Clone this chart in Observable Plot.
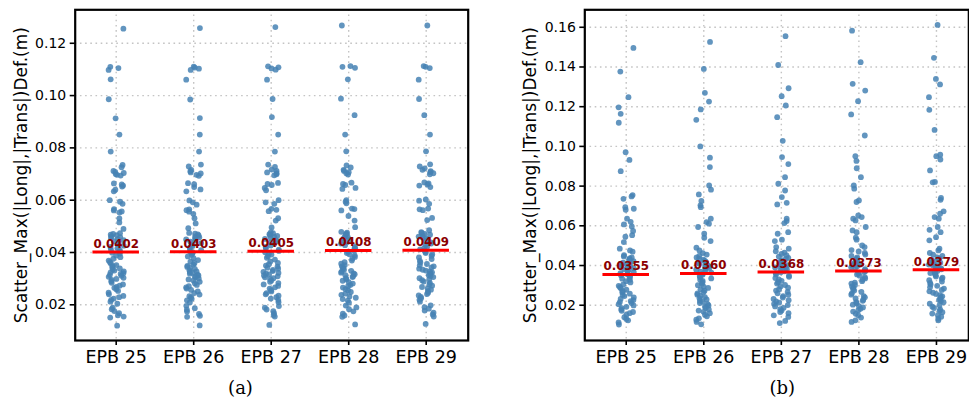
<!DOCTYPE html>
<html>
<head>
<meta charset="utf-8">
<script src="https://cdn.jsdelivr.net/npm/d3@7"></script>
<script src="https://cdn.jsdelivr.net/npm/@observablehq/plot@0.6"></script>
<style>
  html, body { margin: 0; padding: 0; background: #fff; }
  #wrap { display: flex; width: 969px; height: 408px; overflow: hidden; }
</style>
</head>
<body>
<div id="wrap"></div>
<script>
const categories = ["EPB 25", "EPB 26", "EPB 27", "EPB 28", "EPB 29"];
const yLabel = "Scatter_Max(|Long|,|Trans|)Def.(m)";
const yTicksA = [0.02, 0.04, 0.06, 0.08, 0.10, 0.12];
const yTicksB = [0.02, 0.04, 0.06, 0.08, 0.10, 0.12, 0.14, 0.16];
const meansA = [0.0402, 0.0403, 0.0405, 0.0408, 0.0409];
const meansB = [0.0355, 0.0360, 0.0368, 0.0373, 0.0379];

const a25 = [0.1256, 0.1110, 0.1105, 0.1098, 0.1062, 0.0986, 0.0913, 0.0851, 0.0786, 0.0735, 0.0726, 0.0712, 0.0708, 0.0704, 0.0700, 0.0697, 0.0694, 0.0664, 0.0660, 0.0656, 0.0652, 0.0640, 0.0634, 0.0600, 0.0594, 0.0586, 0.0566, 0.0561, 0.0557, 0.0553, 0.0530, 0.0515, 0.0490,
  0.0474, 0.0471, 0.0468, 0.0466, 0.0462, 0.0459, 0.0455, 0.0451, 0.0447, 0.0443, 0.0437, 0.0432, 0.0426, 0.0421, 0.0416, 0.0411, 0.0407, 0.0403, 0.0399, 0.0395, 0.0388, 0.0382, 0.0376, 0.0369, 0.0363, 0.0357, 0.0352, 0.0348, 0.0344, 0.0339, 0.0335, 0.0331, 0.0328, 0.0324, 0.0321, 0.0318, 0.0314, 0.0311, 0.0307, 0.0303, 0.0299, 0.0295, 0.0290, 0.0284, 0.0278, 0.0273, 0.0268, 0.0265, 0.0259, 0.0253, 0.0246, 0.0240, 0.0234, 0.0229, 0.0224, 0.0219, 0.0212, 0.0204, 0.0189, 0.0183, 0.0176, 0.0168, 0.0160, 0.0155, 0.0151, 0.0120];
const a26 = [0.1258, 0.1111, 0.1107, 0.1103, 0.1098, 0.1061, 0.0985, 0.0914, 0.0851, 0.0786, 0.0736, 0.0729, 0.0716, 0.0711, 0.0706, 0.0702, 0.0697, 0.0693, 0.0665, 0.0661, 0.0650, 0.0641, 0.0634, 0.0599, 0.0592, 0.0583, 0.0565, 0.0562, 0.0556, 0.0548, 0.0531, 0.0511, 0.0493,
  0.0475, 0.0472, 0.0469, 0.0465, 0.0461, 0.0458, 0.0454, 0.0450, 0.0446, 0.0441, 0.0436, 0.0430, 0.0425, 0.0419, 0.0414, 0.0409, 0.0404, 0.0400, 0.0396, 0.0391, 0.0385, 0.0378, 0.0371, 0.0365, 0.0359, 0.0354, 0.0349, 0.0345, 0.0341, 0.0337, 0.0332, 0.0328, 0.0325, 0.0322, 0.0319, 0.0315, 0.0312, 0.0308, 0.0305, 0.0301, 0.0297, 0.0293, 0.0288, 0.0282, 0.0276, 0.0271, 0.0267, 0.0262, 0.0257, 0.0251, 0.0245, 0.0239, 0.0233, 0.0228, 0.0223, 0.0217, 0.0209, 0.0196, 0.0187, 0.0181, 0.0174, 0.0165, 0.0158, 0.0154, 0.0121];
const a27 = [0.1262, 0.1112, 0.1108, 0.1104, 0.1099, 0.1061, 0.0987, 0.0918, 0.0851, 0.0786, 0.0736, 0.0727, 0.0717, 0.0712, 0.0706, 0.0703, 0.0699, 0.0695, 0.0666, 0.0662, 0.0658, 0.0647, 0.0638, 0.0600, 0.0592, 0.0586, 0.0567, 0.0563, 0.0558, 0.0531, 0.0522, 0.0496,
  0.0477, 0.0474, 0.0470, 0.0467, 0.0463, 0.0460, 0.0456, 0.0452, 0.0448, 0.0443, 0.0438, 0.0433, 0.0427, 0.0421, 0.0416, 0.0411, 0.0406, 0.0401, 0.0397, 0.0392, 0.0386, 0.0380, 0.0373, 0.0366, 0.0360, 0.0355, 0.0350, 0.0346, 0.0342, 0.0338, 0.0333, 0.0329, 0.0326, 0.0322, 0.0319, 0.0316, 0.0312, 0.0309, 0.0305, 0.0302, 0.0298, 0.0293, 0.0288, 0.0283, 0.0278, 0.0272, 0.0267, 0.0262, 0.0256, 0.0251, 0.0245, 0.0240, 0.0235, 0.0229, 0.0224, 0.0218, 0.0210, 0.0195, 0.0189, 0.0182, 0.0176, 0.0168, 0.0161, 0.0155, 0.0123];
const a28 = [0.1268, 0.1113, 0.1110, 0.1106, 0.1062, 0.0988, 0.0925, 0.0851, 0.0787, 0.0733, 0.0725, 0.0716, 0.0712, 0.0707, 0.0703, 0.0698, 0.0667, 0.0662, 0.0658, 0.0647, 0.0643, 0.0600, 0.0594, 0.0588, 0.0568, 0.0566, 0.0561, 0.0540, 0.0522, 0.0497,
  0.0479, 0.0476, 0.0472, 0.0469, 0.0465, 0.0462, 0.0458, 0.0454, 0.0450, 0.0445, 0.0440, 0.0434, 0.0428, 0.0423, 0.0418, 0.0413, 0.0408, 0.0403, 0.0398, 0.0393, 0.0389, 0.0383, 0.0376, 0.0369, 0.0363, 0.0357, 0.0352, 0.0347, 0.0343, 0.0338, 0.0334, 0.0330, 0.0327, 0.0323, 0.0320, 0.0317, 0.0313, 0.0309, 0.0306, 0.0302, 0.0297, 0.0292, 0.0287, 0.0281, 0.0276, 0.0271, 0.0266, 0.0260, 0.0255, 0.0249, 0.0243, 0.0238, 0.0232, 0.0227, 0.0222, 0.0216, 0.0208, 0.0197, 0.0190, 0.0183, 0.0175, 0.0166, 0.0159, 0.0154, 0.0125];
const a29 = [0.1268, 0.1113, 0.1110, 0.1105, 0.1061, 0.0987, 0.0925, 0.0851, 0.0787, 0.0737, 0.0729, 0.0722, 0.0716, 0.0711, 0.0707, 0.0703, 0.0699, 0.0668, 0.0664, 0.0660, 0.0656, 0.0650, 0.0603, 0.0598, 0.0586, 0.0568, 0.0565, 0.0562, 0.0532, 0.0524, 0.0485,
  0.0478, 0.0475, 0.0471, 0.0468, 0.0465, 0.0461, 0.0457, 0.0453, 0.0449, 0.0444, 0.0439, 0.0434, 0.0428, 0.0422, 0.0417, 0.0412, 0.0407, 0.0402, 0.0398, 0.0393, 0.0387, 0.0381, 0.0375, 0.0368, 0.0362, 0.0356, 0.0351, 0.0347, 0.0343, 0.0338, 0.0334, 0.0331, 0.0328, 0.0324, 0.0321, 0.0317, 0.0313, 0.0310, 0.0306, 0.0302, 0.0298, 0.0294, 0.0289, 0.0284, 0.0278, 0.0273, 0.0268, 0.0263, 0.0258, 0.0252, 0.0246, 0.0241, 0.0236, 0.0230, 0.0225, 0.0219, 0.0212, 0.0198, 0.0191, 0.0185, 0.0178, 0.0170, 0.0163, 0.0155, 0.0127];

const b25 = [0.1496, 0.1377, 0.1248, 0.1197, 0.1164, 0.1119, 0.0971, 0.0932, 0.0875, 0.0755, 0.0748, 0.0736, 0.0694, 0.0686, 0.0681, 0.0636, 0.0620, 0.0607, 0.0597, 0.0574, 0.0553, 0.0545, 0.0518, 0.0485, 0.0476, 0.0470,
  0.0452, 0.0446, 0.0441, 0.0436, 0.0431, 0.0427, 0.0422, 0.0418, 0.0414, 0.0410, 0.0406, 0.0402, 0.0398, 0.0394, 0.0390, 0.0386, 0.0381, 0.0377, 0.0372, 0.0367, 0.0362, 0.0356, 0.0351, 0.0346, 0.0340, 0.0334, 0.0328, 0.0321, 0.0315, 0.0305, 0.0298, 0.0291, 0.0284, 0.0278, 0.0271, 0.0265, 0.0258, 0.0252, 0.0246, 0.0239, 0.0232, 0.0226, 0.0221, 0.0216, 0.0211, 0.0205, 0.0199, 0.0192, 0.0185, 0.0178, 0.0172, 0.0166, 0.0160, 0.0152, 0.0140, 0.0131, 0.0124, 0.0113, 0.0103];
const b26 = [0.1526, 0.1390, 0.1270, 0.1226, 0.1186, 0.1134, 0.1000, 0.0943, 0.0896, 0.0803, 0.0782, 0.0758, 0.0725, 0.0703, 0.0694, 0.0636, 0.0619, 0.0611, 0.0594, 0.0560, 0.0540, 0.0523, 0.0490, 0.0476,
  0.0462, 0.0455, 0.0448, 0.0441, 0.0435, 0.0429, 0.0424, 0.0419, 0.0414, 0.0409, 0.0404, 0.0400, 0.0396, 0.0392, 0.0388, 0.0383, 0.0379, 0.0374, 0.0369, 0.0364, 0.0358, 0.0353, 0.0347, 0.0341, 0.0335, 0.0329, 0.0322, 0.0315, 0.0308, 0.0301, 0.0294, 0.0287, 0.0280, 0.0273, 0.0266, 0.0259, 0.0253, 0.0247, 0.0241, 0.0235, 0.0229, 0.0223, 0.0217, 0.0211, 0.0205, 0.0199, 0.0193, 0.0186, 0.0179, 0.0173, 0.0167, 0.0160, 0.0152, 0.0144, 0.0134, 0.0127, 0.0116, 0.0104];
const b27 = [0.1555, 0.1410, 0.1293, 0.1253, 0.1206, 0.1147, 0.1028, 0.0946, 0.0911, 0.0845, 0.0812, 0.0778, 0.0745, 0.0716, 0.0708, 0.0636, 0.0624, 0.0614, 0.0568, 0.0560, 0.0530, 0.0523, 0.0493, 0.0485,
  0.0472, 0.0465, 0.0458, 0.0451, 0.0445, 0.0439, 0.0433, 0.0427, 0.0422, 0.0417, 0.0412, 0.0407, 0.0402, 0.0398, 0.0394, 0.0390, 0.0385, 0.0381, 0.0376, 0.0371, 0.0366, 0.0361, 0.0355, 0.0349, 0.0343, 0.0337, 0.0330, 0.0323, 0.0316, 0.0309, 0.0302, 0.0295, 0.0288, 0.0281, 0.0274, 0.0267, 0.0260, 0.0253, 0.0246, 0.0239, 0.0232, 0.0225, 0.0219, 0.0213, 0.0207, 0.0201, 0.0194, 0.0187, 0.0180, 0.0173, 0.0166, 0.0160, 0.0149, 0.0141, 0.0121, 0.0110];
const b28 = [0.1583, 0.1424, 0.1315, 0.1281, 0.1228, 0.1161, 0.1055, 0.0951, 0.0927, 0.0890, 0.0845, 0.0803, 0.0787, 0.0728, 0.0720, 0.0652, 0.0644, 0.0636, 0.0627, 0.0594, 0.0577, 0.0568, 0.0540, 0.0530, 0.0501, 0.0493,
  0.0478, 0.0471, 0.0463, 0.0455, 0.0448, 0.0441, 0.0435, 0.0429, 0.0423, 0.0418, 0.0413, 0.0408, 0.0404, 0.0400, 0.0396, 0.0391, 0.0387, 0.0382, 0.0377, 0.0372, 0.0367, 0.0361, 0.0355, 0.0349, 0.0342, 0.0335, 0.0328, 0.0321, 0.0314, 0.0309, 0.0302, 0.0295, 0.0288, 0.0281, 0.0274, 0.0267, 0.0260, 0.0253, 0.0246, 0.0240, 0.0234, 0.0228, 0.0222, 0.0216, 0.0210, 0.0203, 0.0196, 0.0189, 0.0182, 0.0175, 0.0168, 0.0157, 0.0149, 0.0138, 0.0124, 0.0116];
const b29 = [0.1612, 0.1446, 0.1340, 0.1312, 0.1248, 0.1184, 0.1083, 0.0958, 0.0951, 0.0934, 0.0879, 0.0821, 0.0819, 0.0740, 0.0731, 0.0673, 0.0661, 0.0644, 0.0636, 0.0594, 0.0580, 0.0568, 0.0543, 0.0527, 0.0485, 0.0476, 0.0463,
  0.0455, 0.0448, 0.0441, 0.0435, 0.0429, 0.0424, 0.0419, 0.0414, 0.0409, 0.0405, 0.0401, 0.0397, 0.0393, 0.0389, 0.0385, 0.0381, 0.0377, 0.0372, 0.0367, 0.0362, 0.0357, 0.0351, 0.0345, 0.0339, 0.0333, 0.0326, 0.0319, 0.0312, 0.0305, 0.0298, 0.0291, 0.0284, 0.0277, 0.0270, 0.0263, 0.0257, 0.0251, 0.0245, 0.0239, 0.0233, 0.0227, 0.0221, 0.0215, 0.0208, 0.0200, 0.0193, 0.0186, 0.0179, 0.0172, 0.0165, 0.0158, 0.0150, 0.0142, 0.0132, 0.0124];

const seriesA = [a25, a26, a27, a28, a29];
const seriesB = [b25, b26, b27, b28, b29];

// deterministic strip-plot jitter (visual spread only)
function jit(i, k) {
  const s = Math.sin(i * 127.1 + k * 311.7 + 0.5) * 43758.5453;
  return (s - Math.floor(s)) * 2 - 1;
}

function panel({series, means, yTicks, yDomain, xDomain, width, marginLeft, marginRight, labelX, caption, captionDx}) {
  const pts = [];
  series.forEach((vals, k) => vals.forEach((v, i) => pts.push({k, v, j: jit(i, k) * 0.1})));
  const meanRows = means.map((m, k) => ({k, m}));
  const cats = d3.range(categories.length);
  const grid = {stroke: "#c4c4c4", strokeWidth: 1.4, strokeDasharray: "1.6,3.6"};
  return Plot.plot({
    width, height: 408,
    marginLeft, marginRight, marginTop: 9.3, marginBottom: 68,
    style: {fontFamily: "DejaVu Sans, sans-serif", color: "#000", background: "#fff", overflow: "visible"},
    x: {domain: xDomain},
    y: {domain: yDomain},
    marks: [
      Plot.ruleX(cats, {x: d => d, ...grid}),
      Plot.ruleY(yTicks, {y: d => d, ...grid}),
      Plot.dot(pts, {x: d => d.k + d.j, y: "v", r: 2.9, fill: "#4682b4", fillOpacity: 0.85, stroke: "none"}),
      Plot.ruleY(meanRows, {y: "m", x1: d => d.k - 0.3, x2: d => d.k + 0.3, stroke: "#ff0000", strokeWidth: 3}),
      Plot.text(meanRows, {x: "k", y: "m", text: d => d.m.toFixed(4), lineAnchor: "bottom", dy: -4, fill: "#8b0000", fontWeight: "bold", fontSize: 11.8}),
      Plot.axisX({ticks: cats, tickFormat: i => categories[i], tickSize: 5, tickPadding: 5, fontSize: 17.5, strokeWidth: 1.6, label: null}),
      Plot.axisY({ticks: yTicks, tickFormat: d3.format(".2f"), tickSize: 5, tickPadding: 4, fontSize: 14, strokeWidth: 1.6, label: null}),
      Plot.frame({stroke: "#000", strokeWidth: 2.2}),
      Plot.text([yLabel], {frameAnchor: "left", text: d => d, rotate: -90, textAnchor: "middle", dx: -(marginLeft - labelX), fontSize: 17}),
      Plot.text([caption], {frameAnchor: "bottom-left", text: d => d, dx: captionDx, dy: 53, fontSize: 18, fontFamily: "DejaVu Serif, serif", textAnchor: "middle"})
    ]
  });
}

const wrap = document.getElementById("wrap");
wrap.appendChild(panel({
  series: seriesA, means: meansA, yTicks: yTicksA,
  yDomain: [0.00635, 0.1328], xDomain: [-0.529, 4.542],
  width: 480, marginLeft: 74.7, marginRight: 12.3, labelX: 20.7, caption: "(a)", captionDx: 165.3
}));
wrap.appendChild(panel({
  series: seriesB, means: meansB, yTicks: yTicksB,
  yDomain: [0.00224, 0.1688], xDomain: [-0.534, 4.417],
  width: 489, marginLeft: 104.3, marginRight: 0.7, labelX: 50, caption: "(b)", captionDx: 197.4
}));
</script>
</body>
</html>
